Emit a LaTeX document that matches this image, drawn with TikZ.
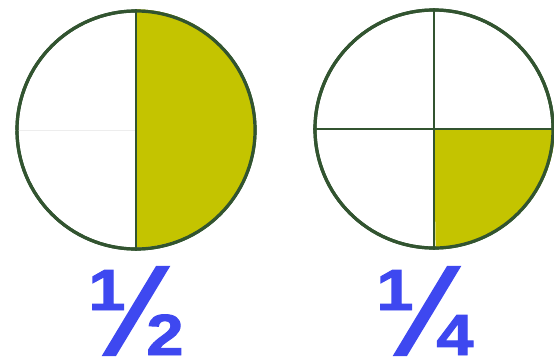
\documentclass[tikz,border=0pt]{standalone}
\usepackage{fontspec}
\setmainfont{Liberation Sans}
\newfontfamily\fracfont{Liberation Sans Bold}[FakeBold=1.6]
\usepackage{tikz}
\usetikzlibrary{positioning}

\definecolor{rimgreen}{RGB}{50,84,48}
\definecolor{pieolive}{RGB}{196,196,0}
\definecolor{fracblue}{RGB}{62,72,240}

\newcommand{\wide}[1]{\scalebox{1.15}[1]{#1}}

\begin{document}
\begin{tikzpicture}[
  x=1pt, y=-1pt,
  pie/.style={circle, draw=rimgreen, line width=3.2pt, minimum size=238pt, inner sep=0pt},
  slice/.style={fill=pieolive},
  cut/.style={draw=rimgreen, line width=2.6pt},
  digit/.style={font=\fontsize{58}{58}\selectfont\fracfont, text=fracblue,
                inner sep=0pt, anchor=base},
  bar/.style={font=\fontsize{128}{128}\selectfont\fracfont, text=fracblue,
              inner sep=0pt, anchor=base}
]
\useasboundingbox (0,0) rectangle (554,361);

% one half
\node[pie] (half) at (136,130) {};
\fill[slice] (half.north) arc[start angle=90, end angle=-90, radius=119pt] -- cycle;
\draw[black!7, line width=1pt] (half.west) -- (half.center);
\draw[cut] (half.north) -- (half.south);
\node[pie] at (half) {};

% one quarter
\node[pie] (quarter) at (434,129) {};
\fill[slice] (quarter.center) -- (quarter.east) arc[start angle=0, end angle=-90, radius=119pt] -- cycle;
\draw[cut] (quarter.north) -- (quarter.south);
\draw[cut] (quarter.west) -- (quarter.east);
\node[pie] at (quarter) {};

% labels
\node[digit] (halfnum) at (107,310) {\wide{1}};
\node[bar] (halfbar) at (136,355) {\scalebox{0.95}[1]{⁄}};
\node[digit] (halfden) at (165,355) {\wide{2}};
\node[digit] (quarternum) at (395,310) {\wide{1}};
\node[bar] (quarterbar) at (427,355) {\scalebox{0.95}[1]{⁄}};
\node[digit] (quarterden) at (455,355) {\wide{4}};
\end{tikzpicture}
\end{document}
